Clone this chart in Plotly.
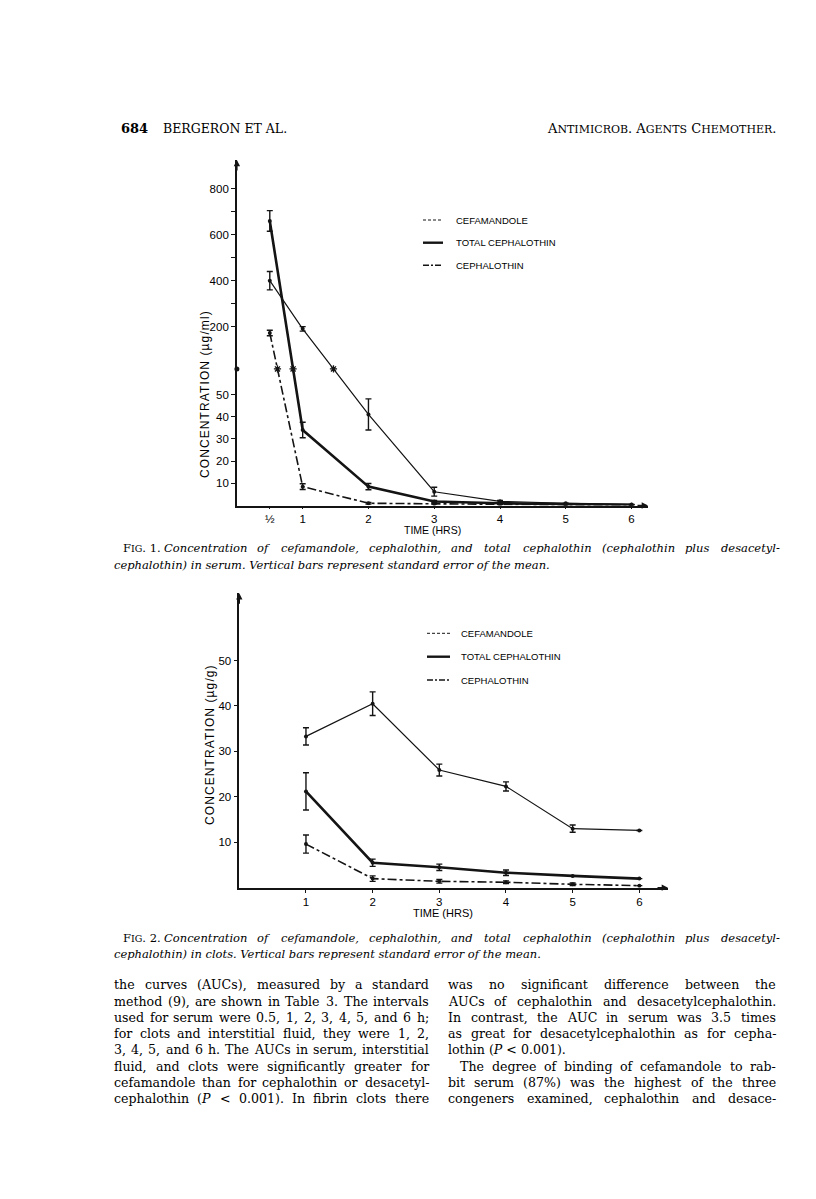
import re
import plotly.graph_objects as go

# ---------------- data ----------------
hours_serum = [0.5, 1, 2, 3, 4, 5, 6]
hour_labels_serum = ["½", "1", "2", "3", "4", "5", "6"]
serum_cefamandole = [400, 190, 41, 6.2, 1.9, 1.0, 0.5]
serum_cefamandole_se = [40, 10, 7, 2, 0.4, 0, 0]
serum_total_ceph = [660, 34, 8.5, 1.8, 1.0, 0.5, 0.3]
serum_total_ceph_se = [45, 3.5, 1.4, 0.5, 0.3, 0, 0]
serum_cephalothin = [172, 8.5, 1.0, 0.7, 0.4, 0.3, 0.2]
serum_cephalothin_se = [12, 1.3, 0.4, 0, 0, 0, 0]
serum_ticks_low = [10, 20, 30, 40, 50]
serum_ticks_high = [200, 300, 400, 500, 600, 700, 800]
serum_ticks_high_labeled = [200, 400, 600, 800]

hours_clot = [1, 2, 3, 4, 5, 6]
clot_cefamandole = [33.3, 40.5, 25.9, 22.3, 13.0, 12.6]
clot_cefamandole_se = [1.9, 2.6, 1.3, 1.0, 0.8, 0]
clot_total_ceph = [21.2, 5.5, 4.5, 3.3, 2.6, 2.0]
clot_total_ceph_se = [4.1, 0.8, 0.7, 0.6, 0, 0]
clot_cephalothin = [9.6, 2.0, 1.4, 1.2, 0.75, 0.45]
clot_cephalothin_se = [2.0, 0.6, 0.4, 0.3, 0.3, 0]
clot_ticks = [10, 20, 30, 40, 50]

series_names = ["CEFAMANDOLE", "TOTAL CEPHALOTHIN", "CEPHALOTHIN"]

# ---------------- broken-axis scale for Fig. 1 ----------------
BREAK = 61.5          # display level of the axis break
UPPER_ORIGIN = 59.9   # display level of 0 on the upper scale
UPPER_UNIT = 0.1034   # display units per ug/ml on the upper scale


def disp(v):
    return v if v <= BREAK else UPPER_ORIGIN + UPPER_UNIT * v


W, H = 816, 1199
INK = "#141414"
SANS = "Liberation Sans, Arial, sans-serif"
SERIF = "DejaVu Serif, serif"

styles = [
    dict(width=1.2, dash="solid"),
    dict(width=2.6, dash="solid"),
    dict(width=1.6, dash="dashdot"),
]

fig = go.Figure()

serum_sets = [
    (serum_cefamandole, serum_cefamandole_se),
    (serum_total_ceph, serum_total_ceph_se),
    (serum_cephalothin, serum_cephalothin_se),
]
break_x, break_y = [], []
for (vals, se), st, name in zip(serum_sets, styles, series_names):
    y = [disp(v) for v in vals]
    up = [disp(v + e) - disp(v) for v, e in zip(vals, se)]
    dn = [disp(v) - disp(max(v - e, 0)) for v, e in zip(vals, se)]
    fig.add_trace(go.Scatter(
        x=hours_serum, y=y, mode="lines+markers", name=name, showlegend=False,
        line=dict(color=INK, width=st["width"], dash=st["dash"]),
        marker=dict(color=INK, size=4),
        error_y=dict(type="data", array=up, arrayminus=dn, width=3,
                     thickness=1.4, color=INK),
        xaxis="x", yaxis="y"))
    for i in range(len(y) - 1):
        if (y[i] - BREAK) * (y[i + 1] - BREAK) < 0:
            f = (BREAK - y[i]) / (y[i + 1] - y[i])
            break_x.append(hours_serum[i] + f * (hours_serum[i + 1] - hours_serum[i]))
            break_y.append(BREAK)

fig.add_trace(go.Scatter(
    x=break_x, y=break_y, mode="markers", showlegend=False,
    marker=dict(symbol="asterisk", size=6, color=INK, line=dict(color=INK, width=1.3)),
    xaxis="x", yaxis="y"))
fig.add_trace(go.Scatter(
    x=[0], y=[BREAK], mode="markers", showlegend=False, cliponaxis=False,
    marker=dict(symbol="circle", size=5, color=INK), xaxis="x", yaxis="y"))

clot_sets = [
    (clot_cefamandole, clot_cefamandole_se),
    (clot_total_ceph, clot_total_ceph_se),
    (clot_cephalothin, clot_cephalothin_se),
]
for (vals, se), st, name in zip(clot_sets, styles, series_names):
    fig.add_trace(go.Scatter(
        x=hours_clot, y=vals, mode="lines+markers", name=name, showlegend=False,
        line=dict(color=INK, width=st["width"], dash=st["dash"]),
        marker=dict(color=INK, size=4),
        error_y=dict(type="data", array=se, width=3, thickness=1.4, color=INK),
        xaxis="x2", yaxis="y2"))

# ---------------- axes ----------------
y1_ticks = serum_ticks_low + serum_ticks_high
y1_text = [str(t) for t in serum_ticks_low] + [
    str(t) if t in serum_ticks_high_labeled else "" for t in serum_ticks_high]

axis_common = dict(showline=True, linecolor=INK, linewidth=1.6, showgrid=False,
                   zeroline=False, ticks="outside", tickcolor=INK, tickwidth=1.2,
                   tickfont=dict(family=SANS, size=11.5, color="black"))

X1_MAX, Y1_MAX = 6.25, 155.6
X2_MAX, Y2_MAX = 6.43, 64.8

fig.update_layout(
    width=W, height=H, margin=dict(l=0, r=0, t=0, b=0),
    paper_bgcolor="white", plot_bgcolor="white",
    xaxis=dict(axis_common, domain=[236.9 / W, 648 / W], range=[0, X1_MAX],
               tickvals=hours_serum, ticktext=hour_labels_serum, ticklen=2,
               anchor="y"),
    yaxis=dict(axis_common, domain=[1 - 505.5 / H, 1 - 160 / H], range=[0, Y1_MAX],
               tickvals=[disp(t) for t in y1_ticks], ticktext=y1_text, ticklen=4,
               anchor="x"),
    xaxis2=dict(axis_common, domain=[239.3 / W, 668 / W], range=[0, X2_MAX],
                tickvals=hours_clot, ticktext=[str(h) for h in hours_clot], ticklen=3,
                anchor="y2"),
    yaxis2=dict(axis_common, domain=[1 - 887.7 / H, 1 - 593.3 / H], range=[0, Y2_MAX],
                tickvals=clot_ticks, ticktext=[str(t) for t in clot_ticks], ticklen=4,
                anchor="x2"),
)

ann = []
# axis arrows
for xr, yr, xm, ym in [("x", "y", X1_MAX, Y1_MAX), ("x2", "y2", X2_MAX, Y2_MAX)]:
    ann.append(dict(xref=xr, yref=yr, x=0, y=ym, ax=0, ay=12, axref="pixel", ayref="pixel",
                    showarrow=True, arrowhead=2, arrowsize=0.9, arrowwidth=1.4,
                    arrowcolor=INK, text=""))
    ann.append(dict(xref=xr, yref=yr, x=xm, y=0, ax=-12, ay=0, axref="pixel", ayref="pixel",
                    showarrow=True, arrowhead=2, arrowsize=0.9, arrowwidth=1.4,
                    arrowcolor=INK, text=""))


def txt(x, y, s, size, family=SANS, xanchor="center", angle=0, color="black"):
    ann.append(dict(xref="paper", yref="paper", x=x / W, y=1 - y / H, text=s,
                    showarrow=False, xanchor=xanchor, yanchor="middle",
                    textangle=angle, borderpad=0,
                    font=dict(family=family, size=size, color=color)))


# axis titles
ls = "letter-spacing:1.1px"
txt(205, 394, f"<span style='{ls}'>CONCENTRATION (µg/ml)</span>", 12, angle=-90)
txt(210, 744, f"<span style='{ls}'>CONCENTRATION (µg/g)</span>", 12, angle=-90)
txt(432, 530, "TIME (HRS)", 10.5)
txt(443, 913, "TIME (HRS)", 11)

# legends (manual)
shapes = []
leg_dash = ["3px,2px", "solid", "6px,2px,2px,2px"]
leg_w = [1.0, 2.4, 1.4]
for (x0, x1, xt, ys) in [(423, 443, 455, [220, 242.7, 265.3]),
                         (427, 450, 460, [633.3, 656.7, 680])]:
    for name, yy, d, lw in zip(series_names, ys, leg_dash, leg_w):
        shapes.append(dict(type="line", xref="paper", yref="paper",
                           x0=x0 / W, x1=x1 / W, y0=1 - yy / H, y1=1 - yy / H,
                           line=dict(color=INK, width=lw, dash=d)))
        txt(xt, yy, name, 9.5, xanchor="left")

# ---------------- page text ----------------
# approximate DejaVu Serif advance widths (em) used to justify lines
CW = dict(zip("abcdefghijklmnopqrstuvwxyz",
              [.596, .640, .560, .640, .592, .370, .640, .644, .320, .310, .606, .320, .948,
               .644, .602, .640, .640, .478, .513, .402, .644, .565, .856, .564, .565, .527]))
CW.update(dict(zip("ABCDEFGHIJKLMNOPQRSTUVWXYZ",
                   [.722, .735, .765, .802, .730, .694, .799, .872, .395, .401, .747, .664, 1.024,
                    .875, .820, .732, .820, .761, .686, .667, .847, .722, 1.028, .712, .660, .695])))
CW.update({c: .636 for c in "0123456789"})
CW.update({" ": .318, ".": .318, ",": .318, ";": .337, ":": .337, "(": .390, ")": .390,
           "-": .338, "%": .950, "<": .838})


def est_width(s, size):
    plain = re.sub(r"<[^>]+>", "", s).replace("&lt;", "<")
    return sum(CW.get(c, .6) for c in plain) * size


def put_words(words, x0, x1, y, size, fmt="{}", shrink=1.0):
    widths = [est_width(w, size) * shrink for w in words]
    gap = (x1 - x0 - sum(widths)) / (len(words) - 1)
    x = x0
    for w, wd in zip(words, widths):
        txt(x, y, fmt.format(w), size, family=SERIF, xanchor="left")
        x += wd + gap


TEXT_L, TEXT_R = 113, 777
COL_L = (113, 428)
COL_R = (447, 775)

# page header
txt(120, 128, "<b>684</b>", 13, family=SERIF, xanchor="left")
txt(162, 128, "BERGERON ET AL.", 12.5, family=SERIF, xanchor="left")
sc = "font-size:11px"
txt(TEXT_R, 128, f"A<span style='{sc}'>NTIMICROB</span>. A<span style='{sc}'>GENTS</span> "
                 f"C<span style='{sc}'>HEMOTHER</span>.", 13, family=SERIF, xanchor="right")

# captions
fig_sc = "F<span style='font-size:9.5px'>IG</span>."
cap1 = ["Concentration of cefamandole, cephalothin, and total cephalothin (cephalothin plus desacetyl-",
        "cephalothin) in serum. Vertical bars represent standard error of the mean."]
cap2 = ["Concentration of cefamandole, cephalothin, and total cephalothin (cephalothin plus desacetyl-",
        "cephalothin) in clots. Vertical bars represent standard error of the mean."]
CAP_SIZE = 11.5
for num, cap, y0 in [(1, cap1, 548), (2, cap2, 937.5)]:
    head = f"{fig_sc} {num}."
    head_w = est_width("FIG. " + str(num) + ".", CAP_SIZE) * 0.93
    txt(122, y0, head, CAP_SIZE, family=SERIF, xanchor="left")
    put_words(cap[0].split(" "), 122 + head_w + 4, TEXT_R, y0, CAP_SIZE,
              fmt="<i>{}</i>", shrink=0.97)
    txt(TEXT_L, y0 + 16.5, f"<i>{cap[1]}</i>", CAP_SIZE, family=SERIF, xanchor="left")

# body text
left_col = [
    "the curves (AUCs), measured by a standard",
    "method (9), are shown in Table 3. The intervals",
    "used for serum were 0.5, 1, 2, 3, 4, 5, and 6 h;",
    "for clots and interstitial fluid, they were 1, 2,",
    "3, 4, 5, and 6 h. The AUCs in serum, interstitial",
    "fluid, and clots were significantly greater for",
    "cefamandole than for cephalothin or desacetyl-",
    "cephalothin (<i>P</i> &lt; 0.001). In fibrin clots there",
]
right_col = [
    "was no significant difference between the",
    "AUCs of cephalothin and desacetylcephalothin.",
    "In contrast, the AUC in serum was 3.5 times",
    "as great for desacetylcephalothin as for cepha-",
    "lothin (<i>P</i> &lt; 0.001).",
    "The degree of binding of cefamandole to rab-",
    "bit serum (87%) was the highest of the three",
    "congeners examined, cephalothin and desace-",
]
BODY = 12.6
for i, line in enumerate(left_col):
    put_words(line.split(" "), COL_L[0], COL_L[1], 985 + 16.2 * i, BODY)
for i, line in enumerate(right_col):
    if i == 4:
        txt(COL_R[0], 985 + 16.2 * i, line, BODY, family=SERIF, xanchor="left")
        continue
    x0 = COL_R[0] + (12 if i == 5 else 0)
    put_words(line.split(" "), x0, COL_R[1], 985 + 16.2 * i, BODY)

fig.update_layout(annotations=ann, shapes=shapes)
fig.write_html("out.html", config={"displayModeBar": False},
               post_script="document.body.style.margin='0px';"
                           "document.body.style.overflow='hidden';")
